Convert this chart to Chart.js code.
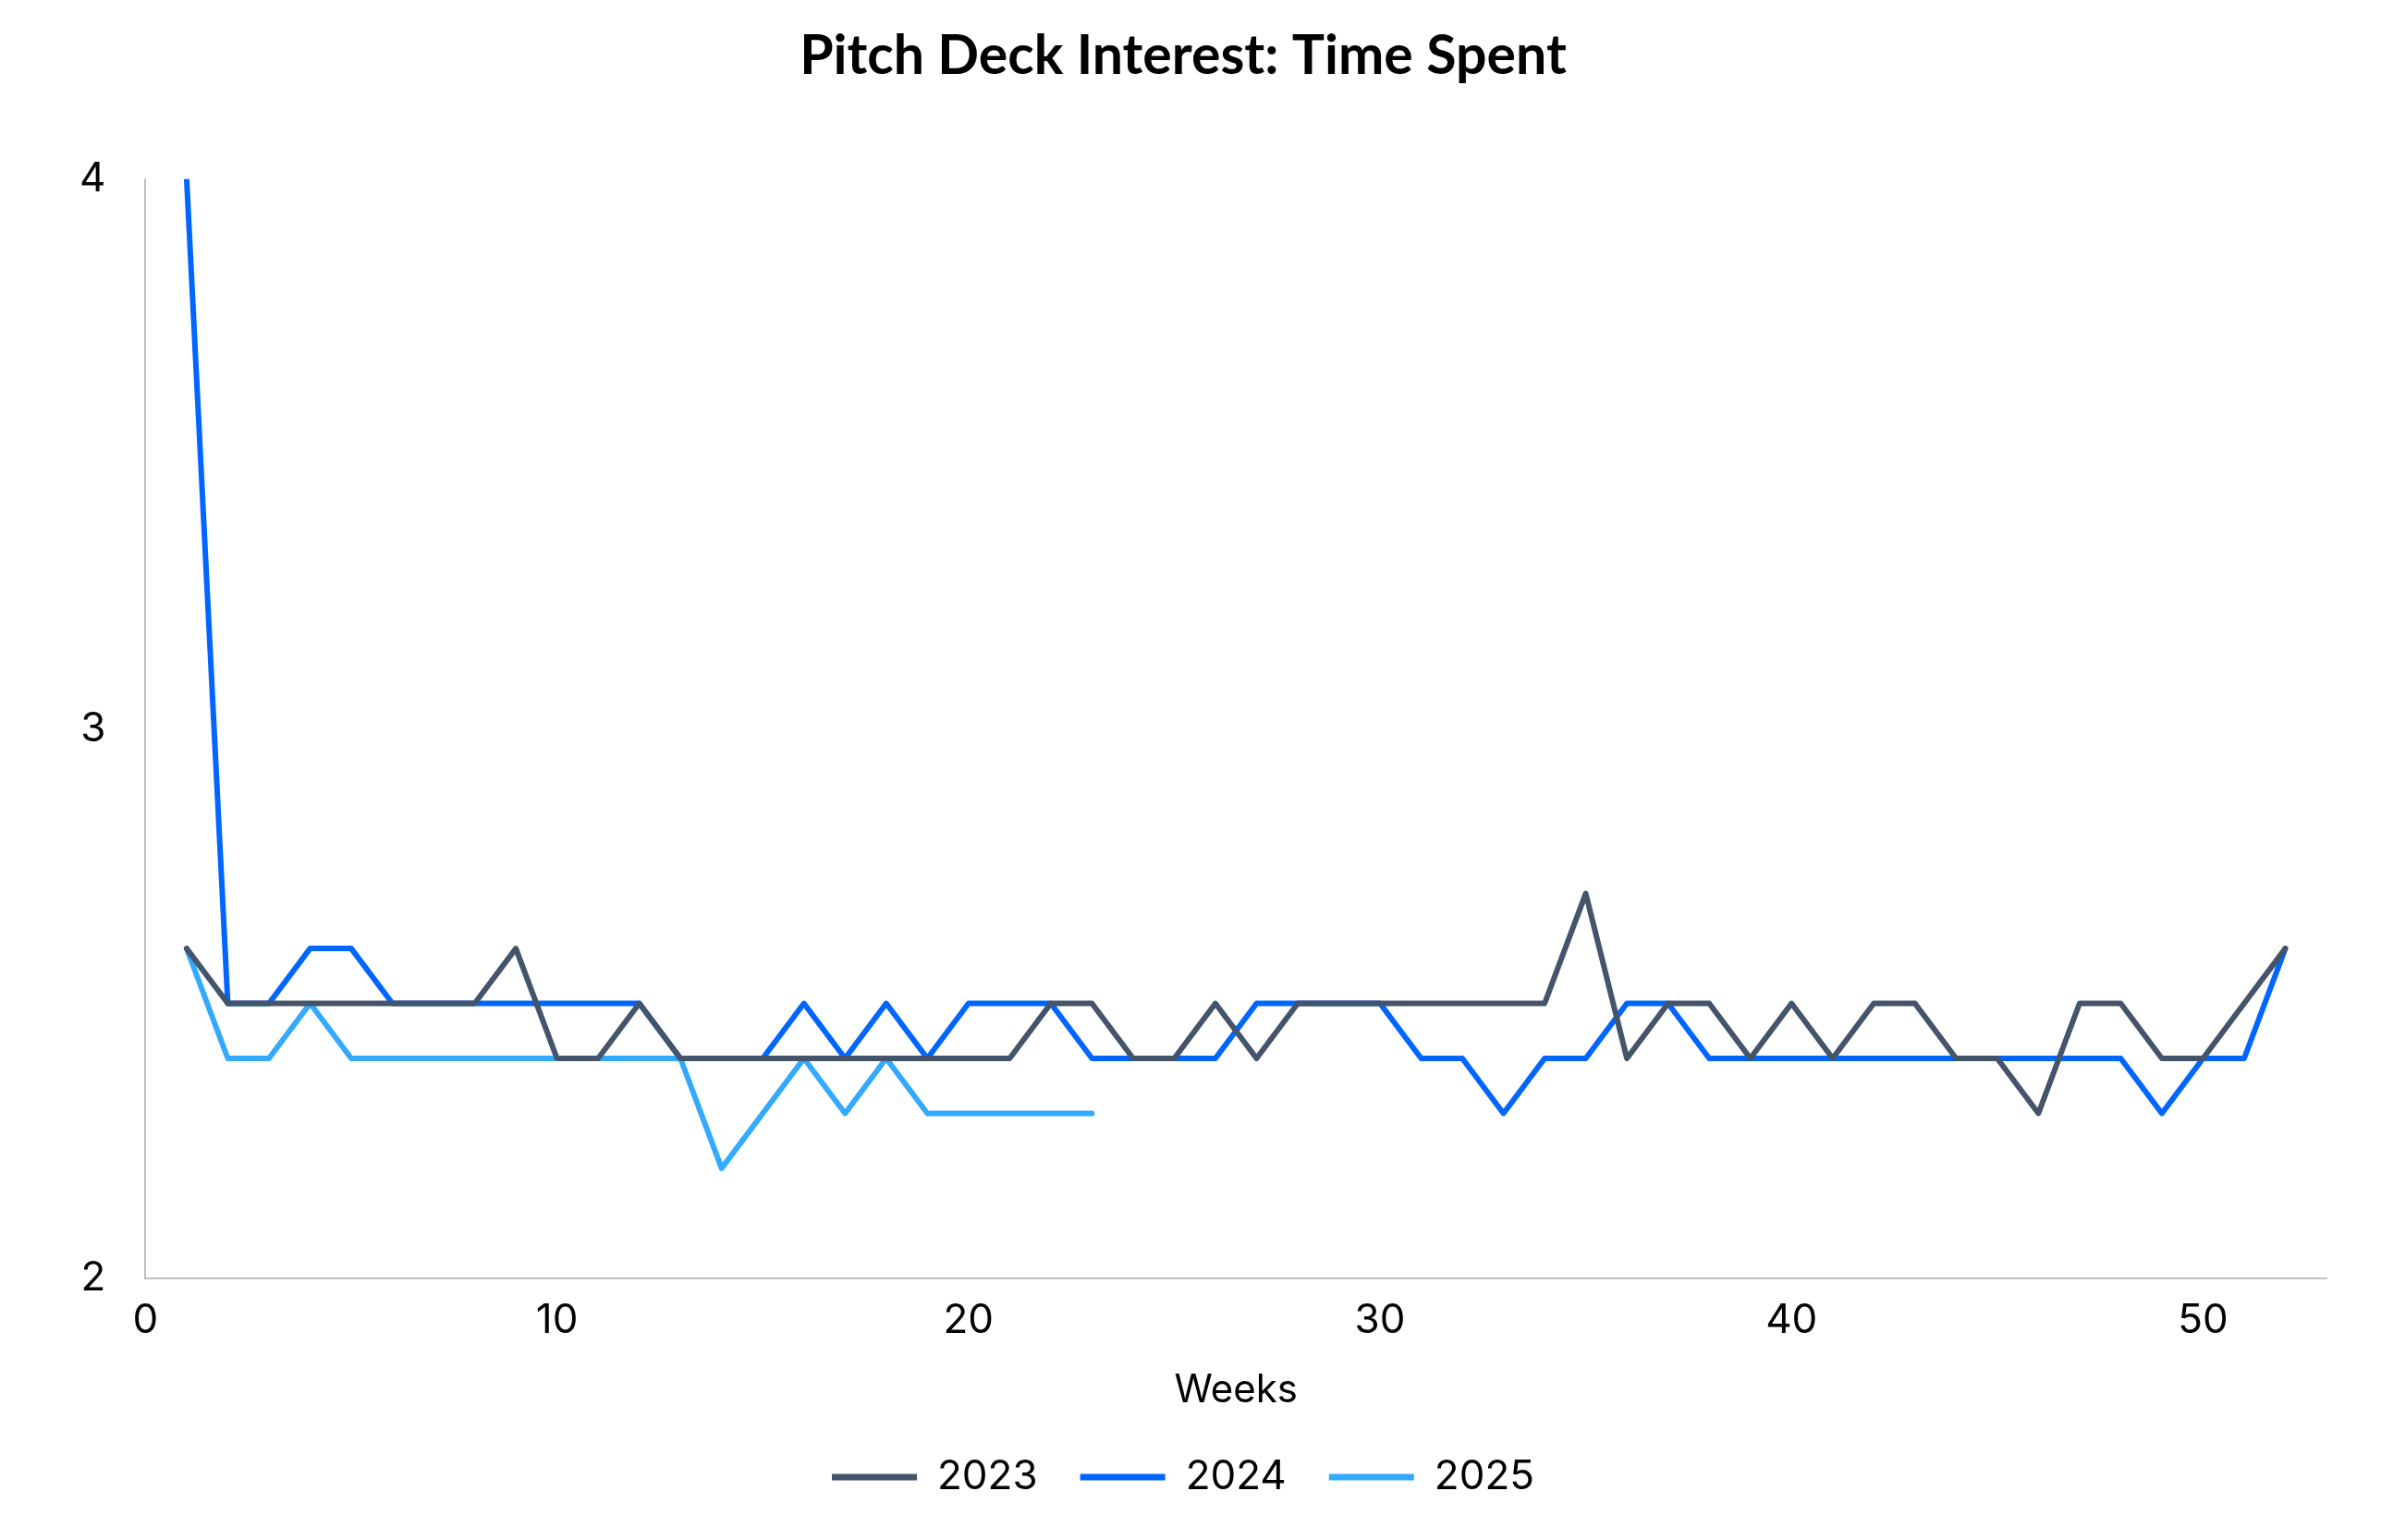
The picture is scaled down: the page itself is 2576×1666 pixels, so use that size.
<!DOCTYPE html>
<html>
<head>
<meta charset="utf-8">
<script src="https://cdn.jsdelivr.net/npm/chart.js@4.4.1/dist/chart.umd.min.js"></script>
<style>
  html, body { margin: 0; padding: 0; background: #fff; }
  #wrap { width: 2576px; height: 1666px; position: relative; }
</style>
</head>
<body>
<div id="wrap"><canvas id="chart"></canvas></div>
<script>
const weeks = [1, 2, 3, 4, 5, 6, 7, 8, 9, 10, 11, 12, 13, 14, 15, 16, 17, 18, 19, 20, 21, 22, 23, 24, 25, 26,
  27, 28, 29, 30, 31, 32, 33, 34, 35, 36, 37, 38, 39, 40, 41, 42, 43, 44, 45, 46, 47, 48, 49, 50, 51, 52];

const values2023 = [2.6, 2.5, 2.5, 2.5, 2.5, 2.5, 2.5, 2.5, 2.6, 2.4, 2.4, 2.5, 2.4, 2.4, 2.4, 2.4, 2.4, 2.4, 2.4, 2.4, 2.4, 2.5, 2.5, 2.4, 2.4, 2.5,
  2.4, 2.5, 2.5, 2.5, 2.5, 2.5, 2.5, 2.5, 2.7, 2.4, 2.5, 2.5, 2.4, 2.5, 2.4, 2.5, 2.5, 2.4, 2.4, 2.3, 2.5, 2.5, 2.4, 2.4, 2.5, 2.6];
const values2024 = [4.0, 2.5, 2.5, 2.6, 2.6, 2.5, 2.5, 2.5, 2.5, 2.5, 2.5, 2.5, 2.4, 2.4, 2.4, 2.5, 2.4, 2.5, 2.4, 2.5, 2.5, 2.5, 2.4, 2.4, 2.4, 2.4,
  2.5, 2.5, 2.5, 2.5, 2.4, 2.4, 2.3, 2.4, 2.4, 2.5, 2.5, 2.4, 2.4, 2.4, 2.4, 2.4, 2.4, 2.4, 2.4, 2.4, 2.4, 2.4, 2.3, 2.4, 2.4, 2.6];
const values2025 = [2.6, 2.4, 2.4, 2.5, 2.4, 2.4, 2.4, 2.4, 2.4, 2.4, 2.4, 2.4, 2.4, 2.2, 2.3, 2.4, 2.3, 2.4, 2.3, 2.3, 2.3, 2.3, 2.3];

const seriesNames = ["2023", "2024", "2025"];
const seriesColors = ["#44546a", "#0066ff", "#33aaff"];
const xTicks = [0, 10, 20, 30, 40, 50];
const yTicks = [2, 3, 4];

function toPoints(vals) {
  return vals.map((v, i) => ({ x: weeks[i], y: v }));
}

Chart.defaults.font.family = "Inter, 'Noto Sans', sans-serif";
Chart.defaults.color = "#000";

const datasets = [values2023, values2024, values2025].map((vals, i) => ({
  label: seriesNames[i],
  data: toPoints(vals),
  borderColor: seriesColors[i],
  backgroundColor: seriesColors[i],
  borderWidth: 6,
  pointRadius: 0,
  tension: 0,
  borderJoinStyle: "round",
  borderCapStyle: "round"
}));

new Chart(document.getElementById("chart"), {
  type: "line",
  data: { datasets },
  options: {
    responsive: true,
    maintainAspectRatio: false,
    animation: false,
    layout: { padding: { left: 43, right: 59, top: 0, bottom: 36 } },
    plugins: {
      title: {
        display: true,
        text: "Pitch Deck Interest: Time Spent",
        font: { family: "Lato, 'Open Sans', sans-serif", size: 59, weight: "bold" },
        color: "#000",
        padding: { top: 26, bottom: 97 }
      },
      legend: {
        position: "bottom",
        labels: {
          boxWidth: 92,
          boxHeight: 7,
          padding: 46,
          font: { size: 44 },
          generateLabels: (chart) => {
            return Chart.defaults.plugins.legend.labels.generateLabels(chart).map(l => {
              l.lineWidth = 0;
              return l;
            });
          }
        }
      },
      tooltip: { enabled: false }
    },
    scales: {
      x: {
        type: "linear",
        min: 0,
        max: 53,
        grid: { display: false, drawTicks: false },
        border: { display: true, color: "#bfbfbf", width: 2 },
        afterBuildTicks: (scale) => {
          scale.ticks = xTicks.map(v => ({ value: v }));
        },
        ticks: { padding: 20, font: { size: 44 }, maxRotation: 0 },
        title: {
          display: true,
          text: "Weeks",
          font: { size: 42 },
          padding: { top: 4, bottom: 0 }
        }
      },
      y: {
        min: 2,
        max: 4,
        grid: { display: false, drawTicks: false },
        border: { display: true, color: "#bfbfbf", width: 2 },
        afterBuildTicks: (scale) => {
          scale.ticks = yTicks.map(v => ({ value: v }));
        },
        ticks: { padding: 43, font: { size: 44 } }
      }
    }
  }
});
</script>
</body>
</html>
